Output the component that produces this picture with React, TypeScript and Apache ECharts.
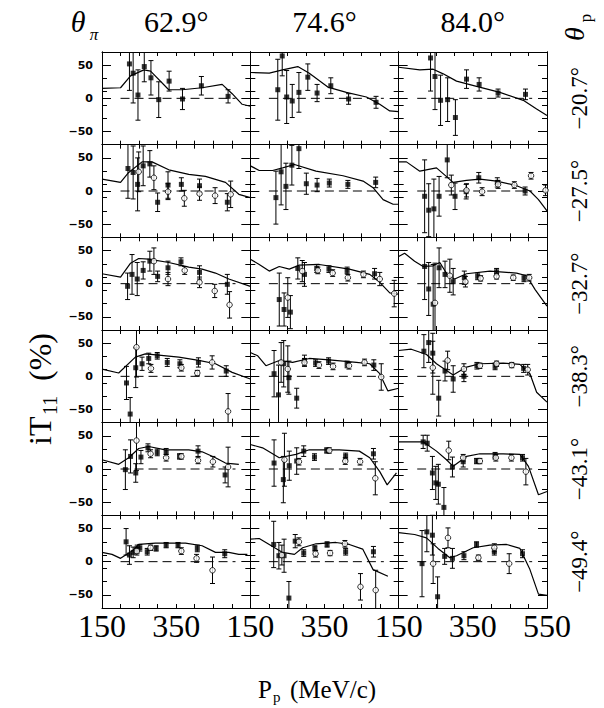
import React, { useEffect, useRef } from "react";
import * as echarts from "echarts";

// ---- text ----
const thetaPiLabels = ["62.9°", "74.6°", "84.0°"];
const thetaPLabels = ["−20.7°", "−27.5°", "−32.7°", "−38.3°", "−43.1°", "−49.4°"];
const xLabelValues = [150, 350];
const xLabelValuesLast = [150, 350, 550];
const yLabelValues = [-50, 0, 50];
const yMinorTicks = [-30, -10, 10, 30];
const zeroLine: [number, number][] = [[200, 0], [510, 0]];

// ---- data: [Pp, iT11, error] ; curve: [Pp, iT11] ----
// row 1 (θp = -20.7°)
const r1c1Filled = [[224, 52, 40], [234, 38, 45], [247, 5, 38], [264, 48, 23], [282, 31, 26], [303, -2, 27], [331, 26, 15], [367, -1, 16], [418, 19, 14], [490, 3, 10]];
const r1c1Open: number[][] = [];
const r1c1Curve = [[150, 15], [200, 16], [227, 34], [263, 43], [281, 41], [330, 13], [366, 13], [420, 16], [474, 21], [501, 7], [528, -9], [550, -12]];
const r1c2Filled = [[224, 13, 46], [236, 64, 30], [248, 2, 40], [263, -4, 25], [281, 9, 30], [305, 32, 20], [330, 8, 13], [367, 19, 12], [415, -1, 8], [489, -6, 9]];
const r1c2Open: number[][] = [];
const r1c2Curve = [[150, 39], [201, 38], [237, 43], [278, 48], [309, 38], [359, 17], [409, 9], [463, 2], [499, -9], [526, -19], [550, -20]];
const r1c3Filled = [[236, 61, 50], [248, 33, 50], [263, -3, 38], [282, -2, 33], [303, -29, 27], [333, 29, 14], [367, 21, 10], [418, 8, 6], [492, 6, 8]];
const r1c3Open: number[][] = [];
const r1c3Curve = [[150, 47], [207, 43], [243, 44], [270, 37], [306, 26], [360, 18], [423, 9], [486, -3], [522, -16], [550, -26]];
// row 2 (θp = -27.5°)
const r2c1Filled = [[220, 34, 45], [234, 28, 40], [246, 10, 40], [261, 38, 30], [279, 41, 20], [300, -17, 14], [328, 9, 20], [364, 10, 10], [413, 8, 10], [488, -17, 13]];
const r2c1Open = [[249, 29, 30], [290, 20, 18], [328, -1, 12], [372, -11, 12], [413, -4, 10], [455, -7, 12], [497, -5, 20]];
const r2c1Curve = [[150, 18], [200, 13], [222, 28], [258, 44], [285, 44], [330, 32], [384, 25], [429, 22], [483, 13], [519, -5], [550, -10]];
const r2c2Filled = [[219, -10, 40], [233, 29, 50], [246, 7, 35], [262, 39, 30], [281, 64, 30], [301, 11, 16], [330, 9, 10], [363, 12, 6], [413, 10, 6], [488, 13, 8]];
const r2c2Open: number[][] = [];
const r2c2Curve = [[150, 38], [174, 31], [210, 31], [237, 35], [269, 40], [327, 30], [400, 23], [454, 15], [481, 5], [508, -13], [535, -20], [550, -20]];
const r2c3Filled = [[220, -8, 55], [231, -29, 40], [245, -27, 45], [259, -8, 30], [281, 47, 27], [302, -8, 20], [332, -1, 11], [366, 20, 8], [416, 13, 7], [491, 0, 6]];
const r2c3Open = [[292, 9, 15], [333, 1, 10], [375, -1, 6], [418, 10, 6], [462, 9, 5], [507, 23, 5], [546, 1, 8]];
const r2c3Curve = [[150, 44], [171, 44], [207, 30], [252, 35], [297, 13], [333, 16], [369, 18], [414, 15], [468, 8], [504, 0], [527, -13], [550, -30]];
// row 3 (θp = -32.7°)
const r3c1Filled = [[219, -4, 20], [231, 14, 30], [245, 7, 25], [261, 20, 13], [279, 34, 15], [300, 11, 8], [328, 24, 10], [363, 33, 6], [413, 17, 10], [488, -1, 15]];
const r3c1Open = [[290, 34, 20], [328, 7, 10], [373, 20, 6], [413, 2, 8], [454, -11, 10], [494, -32, 20]];
const r3c1Curve = [[150, 15], [200, 10], [227, 31], [249, 38], [276, 37], [330, 32], [384, 25], [420, 22], [456, 16], [492, 7], [550, -4]];
const r3c2Filled = [[228, -24, 40], [241, -39, 25], [258, -43, 25], [278, 23, 16], [296, 14, 18], [329, 23, 6], [362, 22, 5], [411, 20, 5], [485, 15, 8]];
const r3c2Open = [[251, -21, 30], [290, 19, 16], [332, 20, 5], [372, 16, 5], [413, 9, 5], [455, 14, 5], [499, 7, 10], [538, -15, 20]];
const r3c2Curve = [[150, 37], [174, 29], [201, 19], [228, 26], [255, 22], [282, 28], [336, 29], [417, 22], [472, 14], [499, 2], [526, -14], [550, -16]];
const r3c3Filled = [[220, 26, 50], [231, -8, 40], [243, -31, 60], [259, 24, 30], [275, 14, 20], [297, 3, 20], [327, 9, 10], [363, 11, 5], [414, 18, 5], [488, 8, 5]];
const r3c3Open = [[248, -29, 60], [288, 12, 25], [330, 3, 8], [371, 8, 4], [414, 11, 4], [459, 9, 4], [502, 9, 5]];
const r3c3Curve = [[150, 41], [166, 46], [193, 34], [216, 26], [243, 27], [261, 32], [283, 12], [301, 7], [333, 15], [396, 19], [468, 16], [495, 12], [518, -9], [550, -34]];
// row 4 (θp = -38.3°)
const r4c1Filled = [[216, -10, 25], [226, -57, 25], [241, 13, 30], [258, 19, 10], [276, 27, 8], [299, 31, 5], [326, 21, 6], [360, 19, 6], [410, 21, 7], [485, 8, 8]];
const r4c1Open = [[243, 44, 45], [282, 12, 6], [364, 13, 5], [407, 5, 4], [447, 21, 10], [490, -53, 27]];
const r4c1Curve = [[150, 11], [195, 5], [240, 29], [267, 34], [303, 32], [357, 29], [411, 24], [456, 19], [501, 6], [550, -4]];
const r4c2Filled = [[214, 4, 35], [226, -28, 45], [240, 19, 35], [254, -2, 25], [275, -33, 15], [296, 24, 8], [326, 20, 5], [361, 23, 5], [411, 18, 5], [483, 17, 8]];
const r4c2Open = [[233, 21, 30], [251, 11, 35], [296, 21, 6], [335, 17, 5], [373, 15, 5], [416, 16, 5], [458, 21, 5], [503, -1, 20]];
const r4c2Curve = [[150, 36], [170, 31], [192, 16], [228, 24], [264, 21], [309, 27], [363, 25], [436, 21], [472, 19], [499, 4], [521, -22], [550, -18]];
const r4c3Filled = [[218, 38, 25], [231, 51, 30], [242, 35, 30], [258, -33, 27], [275, 8, 15], [297, -4, 20], [326, 0, 8], [361, 16, 5], [410, 15, 5], [487, 12, 6]];
const r4c3Open = [[242, 13, 40], [282, 24, 14], [326, 11, 8], [369, 16, 4], [414, 19, 4], [455, 17, 4], [498, 10, 8]];
const r4c3Curve = [[150, 39], [184, 41], [225, 33], [252, 19], [297, 2], [333, 14], [369, 19], [432, 20], [477, 18], [504, 4], [522, -24], [550, -39]];
// row 5 (θp = -43.1°)
const r5c1Filled = [[213, -1, 30], [227, 19, 25], [241, -6, 14], [255, 18, 10], [274, 32, 6], [299, 25, 5], [323, 25, 6], [359, 19, 4], [409, 27, 8], [482, -9, 12]];
const r5c1Open = [[243, 43, 45], [281, 23, 6], [323, 17, 5], [364, 19, 4], [409, 13, 5], [449, 11, 8], [490, 3, 30]];
const r5c1Curve = [[150, 14], [195, 7], [222, 17], [249, 31], [276, 34], [321, 29], [384, 29], [420, 26], [456, 17], [483, 9], [519, 7]];
const r5c2Filled = [[214, 9, 35], [239, -16, 35], [255, 5, 22], [275, 12, 20], [294, 27, 8], [323, 18, 5], [356, 28, 4], [407, 19, 5], [482, 23, 8]];
const r5c2Open = [[242, 14, 40], [281, 11, 5], [363, 28, 4], [406, 12, 5], [446, 11, 5], [487, -14, 25]];
const r5c2Curve = [[150, 37], [183, 32], [228, 17], [273, 22], [309, 29], [390, 29], [444, 27], [472, 17], [499, -4], [519, -24], [544, -6]];
const r5c3Filled = [[216, 41, 10], [227, 39, 12], [241, -6, 25], [250, -21, 25], [257, -23, 30], [272, -58, 30], [295, 3, 15], [324, 11, 8], [360, 12, 4], [410, 20, 5], [484, 17, 5]];
const r5c3Open = [[285, 28, 14], [324, 17, 5], [369, 12, 4], [412, 17, 5], [454, 17, 5], [493, -4, 20]];
const r5c3Curve = [[150, 41], [216, 41], [252, 27], [279, 14], [297, 4], [333, 19], [369, 23], [432, 23], [477, 22], [500, 4], [527, -39], [550, -34]];
// row 6 (θp = -49.4°)
const r6c1Filled = [[215, 30, 20], [224, 10, 14], [234, 14, 8], [245, 19, 6], [252, 21, 5], [272, 15, 5], [296, 20, 4], [323, 25, 4], [355, 25, 4], [407, 20, 5], [481, 12, 6]];
const r6c1Open = [[244, 16, 6], [281, 21, 4], [364, 16, 5], [405, 5, 6], [448, -13, 20]];
const r6c1Curve = [[150, 14], [177, 11], [200, 5], [231, 16], [249, 26], [294, 28], [375, 28], [420, 24], [456, 14], [492, 14], [519, 11], [542, 11]];
const r6c2Filled = [[213, 26, 35], [227, 9, 20], [241, 9, 25], [254, -55, 25], [271, 31, 10], [294, 13, 5], [324, 20, 4], [357, 26, 4], [407, 15, 5], [482, 15, 8]];
const r6c2Open = [[235, 10, 15], [281, 30, 6], [326, 12, 5], [365, 13, 4], [405, 27, 5], [447, -38, 20], [488, -43, 30]];
const r6c2Curve = [[150, 34], [174, 35], [201, 26], [237, 14], [269, 11], [291, 21], [327, 27], [381, 29], [417, 26], [453, 19], [481, -12], [521, -22]];
const r6c3Filled = [[213, -3, 50], [226, 45, 30], [241, 40, 30], [255, -53, 30], [274, 8, 12], [295, 5, 15], [326, 9, 6], [360, 26, 4], [408, 15, 5], [484, 12, 6]];
const r6c3Open = [[243, -3, 30], [283, 36, 15], [365, 6, 4], [408, 21, 6], [448, -3, 15]];
const r6c3Curve = [[150, 44], [193, 41], [225, 36], [256, 20], [288, 6], [306, 9], [351, 21], [396, 25], [441, 26], [477, 20], [504, -12], [527, -49], [550, -51]];

const panelFilled = [
  [r1c1Filled, r1c2Filled, r1c3Filled],
  [r2c1Filled, r2c2Filled, r2c3Filled],
  [r3c1Filled, r3c2Filled, r3c3Filled],
  [r4c1Filled, r4c2Filled, r4c3Filled],
  [r5c1Filled, r5c2Filled, r5c3Filled],
  [r6c1Filled, r6c2Filled, r6c3Filled],
];
const panelOpen = [
  [r1c1Open, r1c2Open, r1c3Open],
  [r2c1Open, r2c2Open, r2c3Open],
  [r3c1Open, r3c2Open, r3c3Open],
  [r4c1Open, r4c2Open, r4c3Open],
  [r5c1Open, r5c2Open, r5c3Open],
  [r6c1Open, r6c2Open, r6c3Open],
];
const panelCurve = [
  [r1c1Curve, r1c2Curve, r1c3Curve],
  [r2c1Curve, r2c2Curve, r2c3Curve],
  [r3c1Curve, r3c2Curve, r3c3Curve],
  [r4c1Curve, r4c2Curve, r4c3Curve],
  [r5c1Curve, r5c2Curve, r5c3Curve],
  [r6c1Curve, r6c2Curve, r6c3Curve],
];

// ---- layout ----
const W = 604, H = 708;
const GL = 102, GR = 547, GT = 52, GB = 608;
const NC = 3, NR = 6;
const CW = (GR - GL) / NC, RH = (GB - GT) / NR;
const YMIN = -70, YMAX = 70;
const SERIF = "Liberation Serif";

function buildOption() {
  const grid: any[] = [], xAxis: any[] = [], yAxis: any[] = [], series: any[] = [];
  const black = "#000";
  for (let r = 0; r < NR; r++) {
    for (let c = 0; c < NC; c++) {
      const gi = grid.length;
      grid.push({ left: GL + c * CW, top: GT + r * RH, width: CW, height: RH, show: false });
      const lastRow = r === NR - 1;
      const xBase = {
        type: "value", gridIndex: gi, min: 150, max: 550, interval: 50,
        axisLine: { show: true, onZero: false, lineStyle: { color: black, width: 1 } },
        axisTick: { show: true, inside: true, length: 4, lineStyle: { color: black, width: 1 } },
        splitLine: { show: false },
      };
      const xi = xAxis.length;
      xAxis.push({
        ...xBase, position: "bottom",
        axisLabel: lastRow
          ? { show: true, customValues: c === NC - 1 ? xLabelValuesLast : xLabelValues, fontFamily: SERIF, fontSize: 32, color: black, margin: 2, showMinLabel: true, showMaxLabel: true }
          : { show: false },
      });
      xAxis.push({ ...xBase, position: "top", axisLabel: { show: false } });
      const yBase = (pos: string, ticks: number[], len: number, labels: boolean) => ({
        type: "value", gridIndex: gi, min: YMIN, max: YMAX, position: pos,
        axisLine: { show: true, onZero: false, lineStyle: { color: black, width: 1 } },
        axisTick: { show: true, inside: true, length: len, customValues: ticks, lineStyle: { color: black, width: 1 } },
        splitLine: { show: false },
        axisLabel: labels
          ? { show: true, customValues: yLabelValues, fontFamily: "DejaVu Sans", fontWeight: "bold", fontSize: 11, color: black, margin: 9,
              formatter: (v: number) => (v < 0 ? "−" + Math.abs(v) : String(v)) }
          : { show: false },
      });
      const yi = yAxis.length;
      yAxis.push(yBase("left", yLabelValues, 9, c === 0));
      yAxis.push(yBase("left", yMinorTicks, 5, false));
      yAxis.push(yBase("right", yLabelValues, 9, false));
      yAxis.push(yBase("right", yMinorTicks, 5, false));

      const filled = panelFilled[r][c];
      const open = panelOpen[r][c];
      const curve = panelCurve[r][c];

      series.push({
        type: "line", xAxisIndex: xi, yAxisIndex: yi, data: zeroLine, showSymbol: false, silent: true,
        lineStyle: { color: black, width: 1, type: [9, 5] }, z: 1,
      });
      series.push({
        type: "custom", xAxisIndex: xi, yAxisIndex: yi, data: [...filled, ...open], silent: true, z: 2,
        encode: { x: 0, y: 1 },
        renderItem: (params: any, api: any) => {
          const x = api.value(0), y = api.value(1), e = api.value(2);
          const hiV = y + e, loV = y - e;
          const hi = api.coord([x, Math.min(hiV, YMAX)]);
          const lo = api.coord([x, Math.max(loV, YMIN)]);
          const cap = 2.5;
          const st = { stroke: black, lineWidth: 1 };
          const children: any[] = [{ type: "line", shape: { x1: hi[0], y1: hi[1], x2: lo[0], y2: lo[1] }, style: st }];
          if (hiV <= YMAX) children.push({ type: "line", shape: { x1: hi[0] - cap, y1: hi[1], x2: hi[0] + cap, y2: hi[1] }, style: st });
          if (loV >= YMIN) children.push({ type: "line", shape: { x1: lo[0] - cap, y1: lo[1], x2: lo[0] + cap, y2: lo[1] }, style: st });
          return { type: "group", children };
        },
      });
      series.push({
        type: "line", xAxisIndex: xi, yAxisIndex: yi, data: curve, showSymbol: false, silent: true,
        lineStyle: { color: black, width: 1.2 }, z: 3,
      });
      series.push({
        type: "scatter", xAxisIndex: xi, yAxisIndex: yi, data: filled.map((d) => [d[0], d[1]]), symbol: "rect", symbolSize: 5,
        itemStyle: { color: black }, silent: true, z: 4,
      });
      series.push({
        type: "scatter", xAxisIndex: xi, yAxisIndex: yi, data: open.map((d) => [d[0], d[1]]), symbol: "circle", symbolSize: 5.5,
        itemStyle: { color: "#fff", borderColor: black, borderWidth: 1 }, silent: true, z: 5,
      });
    }
  }

  const graphic: any[] = [];
  const txt = (x: number, y: number, text: string, font: string, align = "center", rotation = 0) => ({
    type: "text", x, y, rotation, style: { text, font, fill: "#000", textAlign: align, textVerticalAlign: "middle" },
  });
  // θπ header
  graphic.push(txt(78, 21, "θ", `italic 30px "${SERIF}"`));
  graphic.push(txt(94, 34, "π", `italic 17px "${SERIF}"`));
  thetaPiLabels.forEach((t, c) => {
    graphic.push(txt(GL + (c + 0.5) * CW, 21, t, `30px "${SERIF}"`));
  });
  // θp header (rotated)
  graphic.push({
    type: "group", x: 574, y: 28, rotation: Math.PI / 2,
    children: [
      txt(-6, 0, "θ", `italic 28px "${SERIF}"`),
      txt(10, 11, "p", `17px "${SERIF}"`),
    ],
  });
  thetaPLabels.forEach((t, r) => {
    graphic.push(txt(579, GT + (r + 0.5) * RH, t, `23px "${SERIF}"`, "center", Math.PI / 2));
  });
  // y title iT11 (%)
  graphic.push({
    type: "group", x: 40, y: 375, rotation: Math.PI / 2,
    children: [
      txt(-70, 0, "iT", `32px "${SERIF}"`, "left"),
      txt(-40, 10, "11", `20px "${SERIF}"`, "left"),
      txt(-6, 0, "(%)", `32px "${SERIF}"`, "left"),
    ],
  });
  // x title Pp (MeV/c)
  graphic.push({
    type: "group", x: 316, y: 689,
    children: [
      txt(-58, 0, "P", `25px "${SERIF}"`, "left"),
      txt(-43, 8, "p", `15px "${SERIF}"`, "left"),
      txt(-26, 0, "(MeV/c)", `25px "${SERIF}"`, "left"),
    ],
  });

  return { animation: false, backgroundColor: "#fff", grid, xAxis, yAxis, series, graphic };
}

export default function App() {
  const ref = useRef<HTMLDivElement>(null);
  useEffect(() => {
    if (!ref.current) return;
    const chart = echarts.init(ref.current, null, { renderer: "svg" });
    chart.setOption(buildOption() as any);
    return () => chart.dispose();
  }, []);
  return <div ref={ref} style={{ position: "absolute", left: 0, top: 0, width: W, height: H }} />;
}
